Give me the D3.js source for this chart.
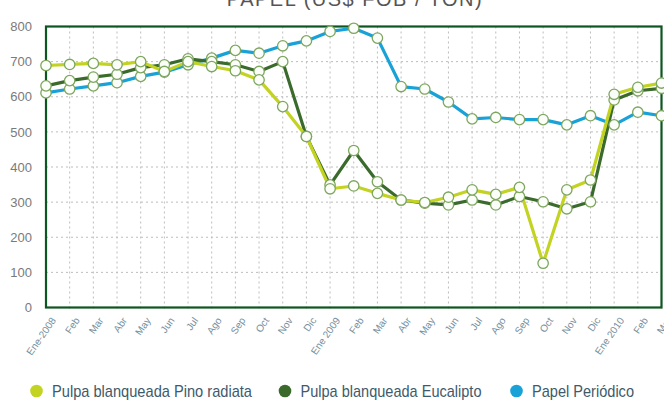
<!DOCTYPE html>
<html><head><meta charset="utf-8">
<script src="https://cdn.jsdelivr.net/npm/d3@7"></script>
<style>body{margin:0;background:#fff}svg{display:block}</style>
</head><body>
<svg id="c" width="664" height="402"></svg>
<script>
const months = ["Ene-2008","Feb","Mar","Abr","May","Jun","Jul","Ago","Sep","Oct","Nov","Dic","Ene 2009","Feb","Mar","Abr","May","Jun","Jul","Ago","Sep","Oct","Nov","Dic","Ene 2010","Feb","Mar"];
const pino = [689,692,695,691,700,672,700,686,674,648,572,487,338,346,325,306,299,314,335,322,342,126,335,363,607,627,639];
const eucalipto = [631,646,656,664,683,691,708,700,691,672,700,487,349,447,358,306,297,292,306,292,316,301,281,301,591,617,624];
const periodico = [611,622,631,640,658,670,691,710,732,724,745,759,786,795,767,629,622,585,537,541,535,535,520,546,520,556,546];
const yTicks = [0,100,200,300,400,500,600,700,800];
const seriesNames = ["Pulpa blanqueada Pino radiata","Pulpa blanqueada Eucalipto","Papel Periódico"];
const title = "PAPEL (US$ FOB / TON)";

const colors = ["#c3d321","#3b6b2c","#19a2d8"];
const svg = d3.select("#c");
const L = 46, R = 661.5, T = 26.5, B = 307.5;
const idx = months.map((d,i)=>i);
const x = d3.scalePoint().domain(idx).range([L,R]);
const y = d3.scaleLinear().domain([0,800]).range([B,T]);

svg.append("text").attr("x",355).attr("y",6).attr("text-anchor","middle")
  .attr("font-family","Liberation Sans, Arial, sans-serif").attr("font-size",20)
  .attr("font-weight",300).attr("letter-spacing",1.5).attr("fill","#555").text(title);

// grid
const g = svg.append("g");
g.selectAll(".hg").data(yTicks.filter(v=>v>0&&v<800)).join("line")
  .attr("x1",L).attr("x2",R).attr("y1",d=>y(d)).attr("y2",d=>y(d))
  .attr("stroke","#bdbdbd").attr("stroke-dasharray","2,3").attr("stroke-width",1);
g.selectAll(".vg").data(idx.slice(1)).join("line")
  .attr("x1",d=>x(d)).attr("x2",d=>x(d)).attr("y1",T).attr("y2",B+4)
  .attr("stroke","#bdbdbd").attr("stroke-dasharray","2,3").attr("stroke-width",1);

// y axis labels
const yAxis = d3.axisLeft(y).tickValues(yTicks).tickSize(0).tickPadding(14);
const ya = svg.append("g").attr("transform",`translate(${L},0)`).call(yAxis);
ya.select(".domain").remove();
ya.selectAll("text").attr("font-family","Liberation Sans, Arial, sans-serif").attr("font-size",13).attr("fill","#7a7a7a");

// x axis labels
const xAxis = d3.axisBottom(x).tickFormat(i=>months[i]).tickSize(0);
const xa = svg.append("g").attr("transform",`translate(0,${B})`).call(xAxis);
xa.select(".domain").remove();
xa.selectAll("text").attr("font-family","Liberation Sans Narrow, Liberation Sans, Arial, sans-serif")
  .attr("font-size",10).attr("fill","#7490a0")
  .attr("text-anchor","end").attr("dy",null).attr("y",null)
  .attr("transform","translate(10,13) rotate(-55)");

// border
svg.append("rect").attr("x",L).attr("y",T).attr("width",R-L).attr("height",B-T)
  .attr("fill","none").attr("stroke","#0d5521").attr("stroke-width",2.2);

const data = [periodico, eucalipto, pino];
const cols = [colors[2], colors[1], colors[0]];
const line = d3.line().x((d,i)=>x(i)).y(d=>y(d));
data.forEach((s,k)=>{
  svg.append("path").datum(s).attr("d",line).attr("fill","none")
    .attr("stroke",cols[k]).attr("stroke-width",3.2).attr("stroke-linejoin","round");
});
data.forEach((s,k)=>{
  svg.append("g").selectAll("circle").data(s).join("circle")
    .attr("cx",(d,i)=>x(i)).attr("cy",d=>y(d)).attr("r",5.2)
    .attr("fill","#fbfdf8").attr("stroke","#7ea65f").attr("stroke-width",1.3);
});

// legend
const legX = [36.5, 285, 516.5];
const legW = [200, 181, 102];
seriesNames.forEach((n,k)=>{
  svg.append("circle").attr("cx",legX[k]).attr("cy",391).attr("r",6.3).attr("fill",colors[k]);
  svg.append("text").attr("x",legX[k]+15.5).attr("y",396.5)
    .attr("font-family","Liberation Sans Narrow, Liberation Sans, Arial, sans-serif")
    .attr("font-size",17).attr("fill","#3e5a6b")
    .attr("textLength",legW[k]).attr("lengthAdjust","spacingAndGlyphs").text(n);
});
</script>
</body></html>
